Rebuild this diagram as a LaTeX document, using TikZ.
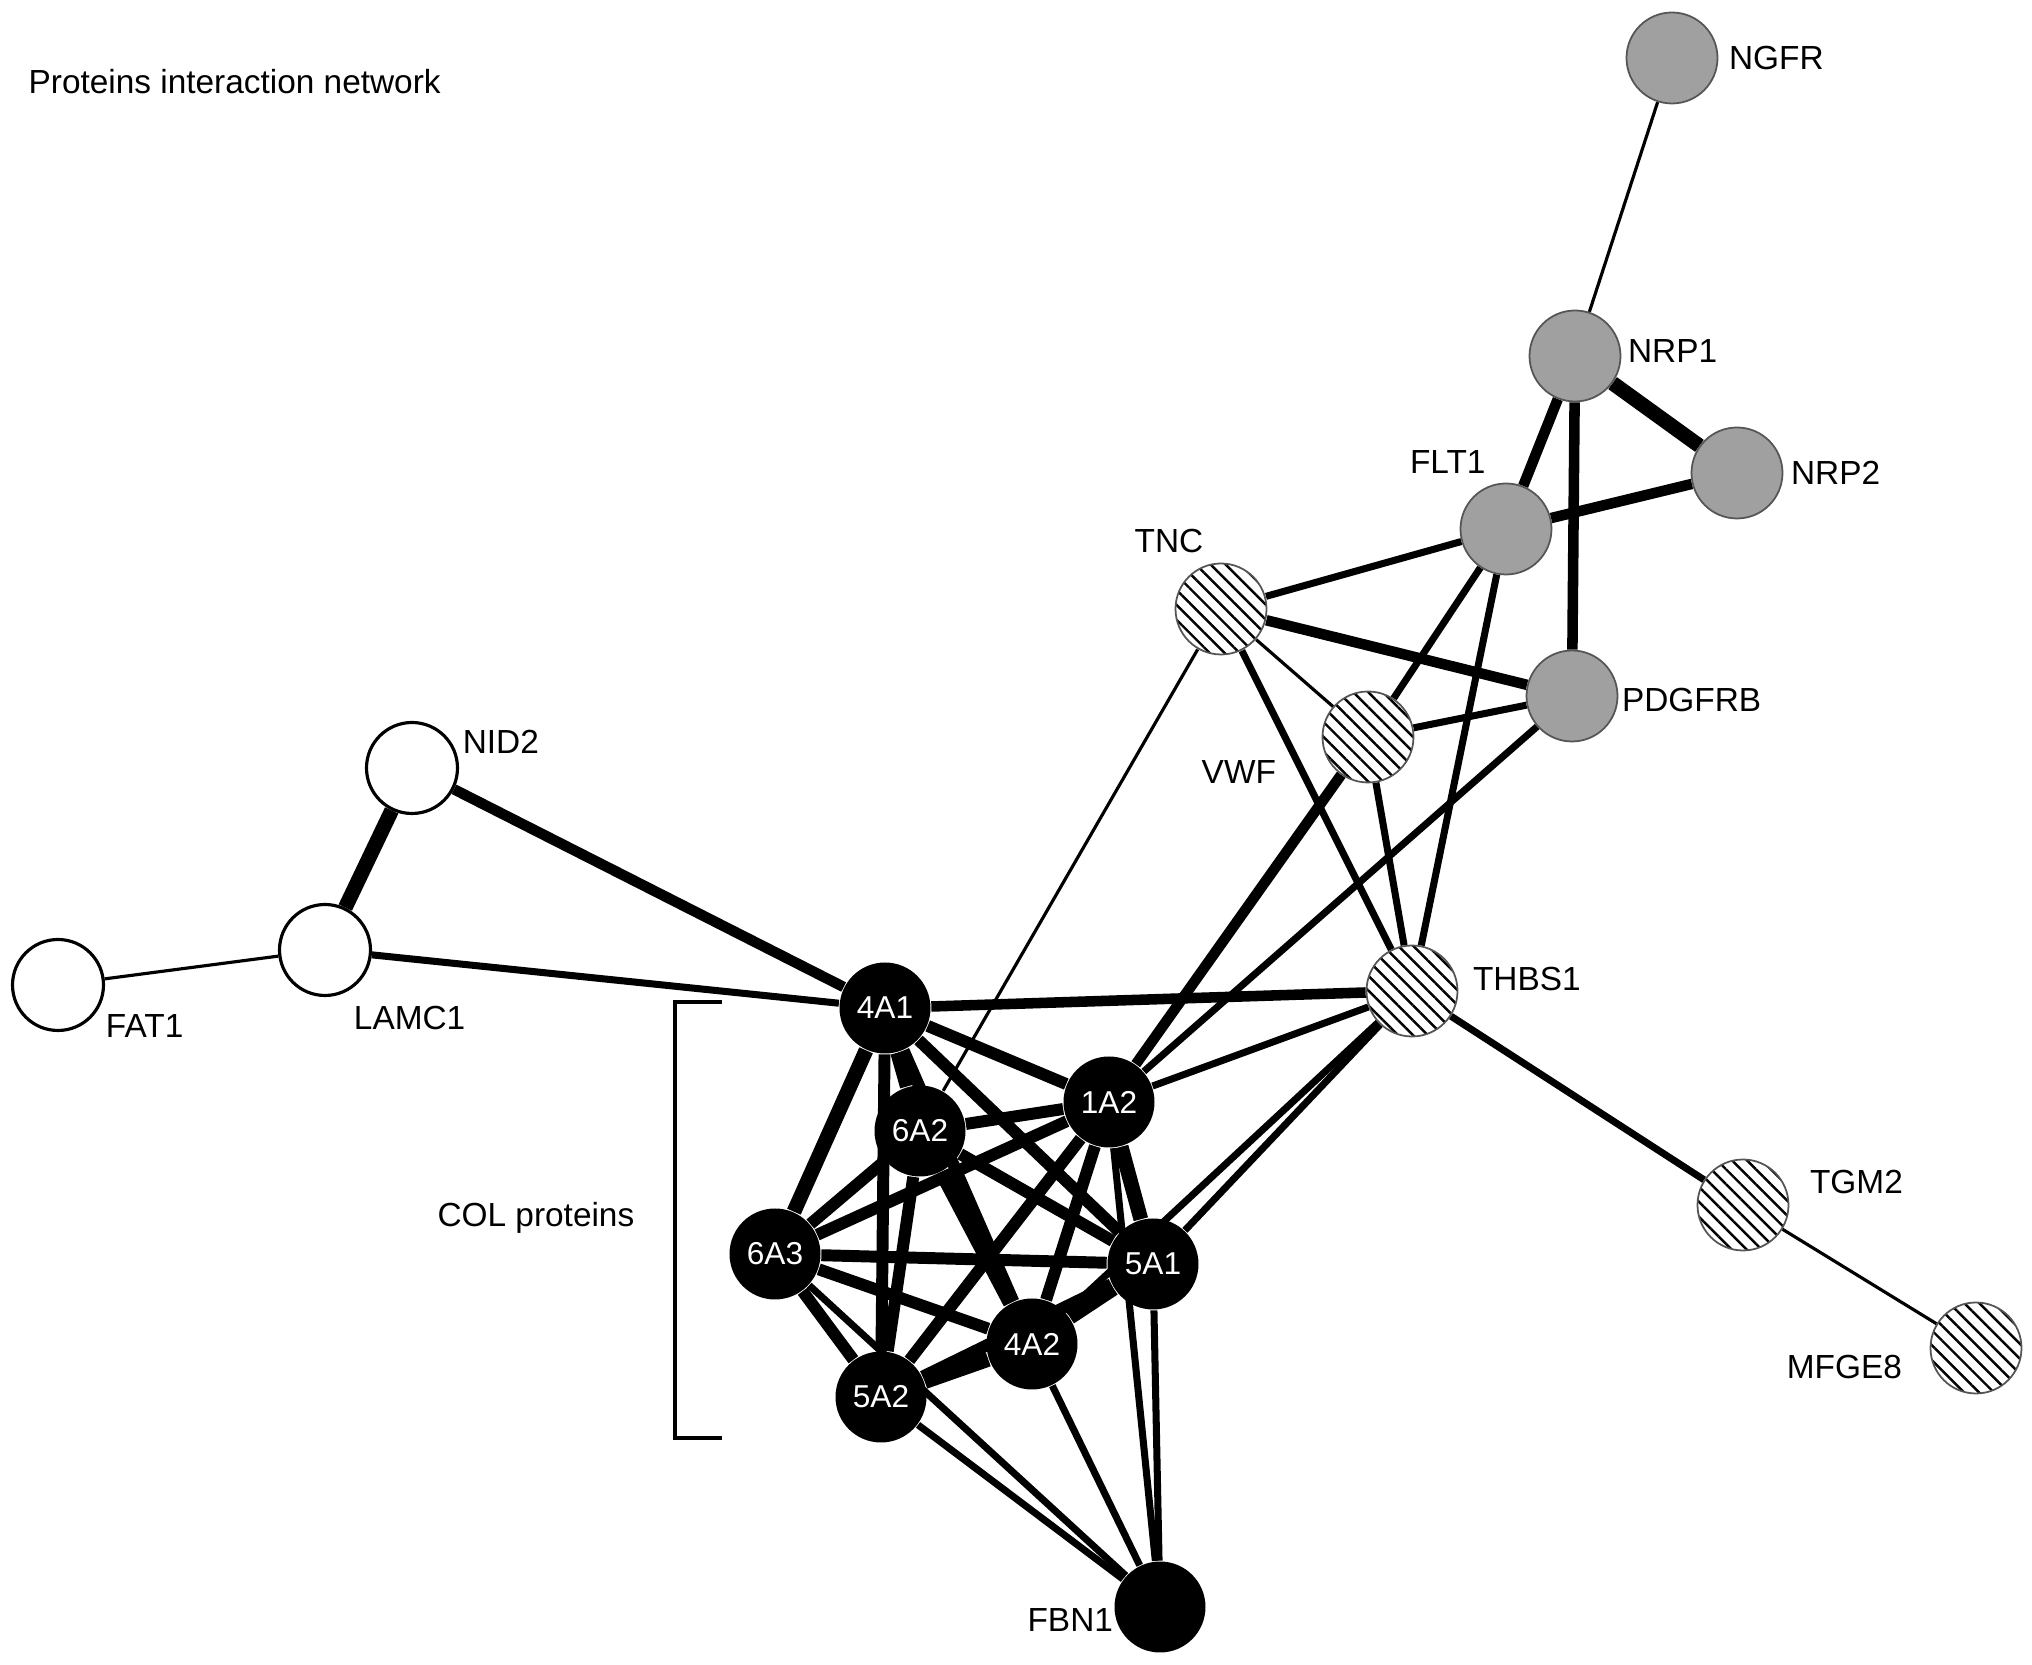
\documentclass[tikz,border=0pt]{standalone}
\usepackage{fontspec}
\setmainfont{Liberation Sans}
\usetikzlibrary{positioning,patterns.meta,backgrounds}
\definecolor{protgray}{HTML}{A0A0A0}
\definecolor{rimgray}{HTML}{555555}

\begin{document}
\begin{tikzpicture}[x=0.1mm,y=-0.1mm,
  prot/.style={circle,inner sep=0pt,minimum size=9.1mm,line width=0.5pt,
               font=\fontsize{9}{10}\selectfont},
  greyprot/.style={prot,draw=rimgray,fill=protgray},
  openprot/.style={prot,draw=black,line width=0.9pt,fill=white},
  hatchprot/.style={prot,draw=rimgray,preaction={fill=white},
               pattern={Lines[angle=-45,distance=3pt,line width=0.7pt]}},
  colprot/.style={prot,fill=black,text=white},
  lbl/.style={font=\fontsize{9.5}{11}\selectfont,inner sep=0pt},
  link/.style={line width=2pt},
  weaklink/.style={line width=0.9pt},
  stronglink/.style={line width=3pt},
  collink/.style={line width=3.4pt},
  toplink/.style={line width=4.2pt}
]
\useasboundingbox (0,0) rectangle (2032,1665);

\node[lbl,anchor=west] (title) at (28,82) {Proteins interaction network};

% proteins
\node[greyprot] (ngfr)   at (1672,58)   {};
\node[greyprot] (nrp1)   at (1575,356)  {};
\node[greyprot] (nrp2)   at (1737,473)  {};
\node[greyprot] (flt1)   at (1506,529)  {};
\node[greyprot] (pdgfrb) at (1572,696)  {};
\node[hatchprot] (tnc)   at (1221,609)  {};
\node[hatchprot] (vwf)   at (1368,737)  {};
\node[hatchprot] (thbs1) at (1412,991)  {};
\node[hatchprot] (tgm2)  at (1743,1205) {};
\node[hatchprot] (mfge8) at (1976,1348) {};
\node[openprot] (nid2)   at (412,768)   {};
\node[openprot] (lamc1)  at (325,950)   {};
\node[openprot] (fat1)   at (58,985)    {};
\node[colprot] (c4a1)    at (885,1008)  {4A1};
\node[colprot] (c1a2)    at (1109,1102) {1A2};
\node[colprot] (c6a2)    at (920,1131)  {6A2};
\node[colprot] (c6a3)    at (775,1254)  {6A3};
\node[colprot] (c5a1)    at (1153,1264) {5A1};
\node[colprot] (c4a2)    at (1032,1344) {4A2};
\node[colprot] (c5a2)    at (881,1397)  {5A2};
\node[colprot] (fbn1)    at (1160,1607) {};

% names
\node[lbl,right=1mm of ngfr] (ngfrL) {NGFR};
\node[lbl,right=0.6mm of nrp1,yshift=0.5mm] (nrp1L) {NRP1};
\node[lbl,right=0.7mm of nrp2] (nrp2L) {NRP2};
\node[lbl,above left=2.2mm and -1.3mm of flt1] (flt1L) {FLT1};
\node[lbl,above left=2.2mm and -1.6mm of tnc] (tncL) {TNC};
\node[lbl,right=0.3mm of pdgfrb,yshift=-0.4mm] (pdgfrbL) {PDGFRB};
\node[lbl,left=4.5mm of vwf,yshift=-3.5mm] (vwfL) {VWF};
\node[lbl,right=0.3mm of nid2,yshift=2.6mm] (nid2L) {NID2};
\node[lbl,below right=2.2mm and -0.5mm of lamc1] (lamc1L) {LAMC1};
\node[lbl,below right=-0.4mm and 1.4mm of fat1] (fat1L) {FAT1};
\node[lbl,right=1.4mm of thbs1,yshift=1.2mm] (thbs1L) {THBS1};
\node[lbl,right=2mm of tgm2,yshift=2.3mm] (tgm2L) {TGM2};
\node[lbl,left=2.7mm of mfge8,yshift=-1.9mm] (mfge8L) {MFGE8};
\node[lbl,left=0mm of fbn1,yshift=-1.3mm] (fbn1L) {FBN1};

% bracket round the collagens
\coordinate (brtop) at (722,1002);
\coordinate (brbot) at (722,1438);
\coordinate (brmid) at (675,1218);
\draw[line width=0.9pt] (brtop) -- ++(-47,0) |- (brbot);
\node[lbl,left=4mm of brmid] (colL) {COL proteins};

\begin{scope}[on background layer]
\draw[weaklink] (ngfr) -- (nrp1);
\draw[toplink] (nrp1) -- (nrp2);
\draw[stronglink] (nrp1) -- (flt1);
\draw[stronglink] (nrp1) -- (pdgfrb);
\draw[stronglink] (nrp2) -- (flt1);
\draw[link] (flt1) -- (tnc);
\draw[link] (flt1) -- (vwf);
\draw[link] (flt1) -- (thbs1);
\draw[stronglink] (tnc) -- (pdgfrb);
\draw[weaklink] (tnc) -- (vwf);
\draw[link] (tnc) -- (thbs1);
\draw[weaklink] (tnc) -- (c6a2);
\draw[link] (vwf) -- (pdgfrb);
\draw[link] (vwf) -- (thbs1);
\draw[stronglink] (vwf) -- (c1a2);
\draw[link] (pdgfrb) -- (c1a2);
\draw[stronglink] (thbs1) -- (c4a1);
\draw[link] (thbs1) -- (c1a2);
\draw[link] (thbs1) -- (c5a1);
\draw[link] (thbs1) -- (c4a2);
\draw[link] (thbs1) -- (tgm2);
\draw[weaklink] (tgm2) -- (mfge8);
\draw[toplink] (nid2) -- (lamc1);
\draw[stronglink] (nid2) -- (c4a1);
\draw[link] (lamc1) -- (c4a1);
\draw[weaklink] (fat1) -- (lamc1);
% collagen cluster
\draw[collink] (c4a1) -- (c1a2);
\draw[toplink] (c4a1) -- (c6a2);
\draw[toplink] (c4a1) -- (c6a3);
\draw[collink] (c4a1) -- (c5a2);
\draw[collink] (c4a1) -- (c4a2);
\draw[collink] (c4a1) -- (c5a1);
\draw[collink] (c1a2) -- (c6a2);
\draw[collink] (c1a2) -- (c6a3);
\draw[collink] (c1a2) -- (c5a2);
\draw[collink] (c1a2) -- (c4a2);
\draw[toplink] (c1a2) -- (c5a1);
\draw[collink] (c6a2) -- (c6a3);
\draw[collink] (c6a2) -- (c5a2);
\draw[toplink] (c6a2) -- (c4a2);
\draw[collink] (c6a2) -- (c5a1);
\draw[collink] (c6a3) -- (c5a1);
\draw[collink] (c6a3) -- (c4a2);
\draw[collink] (c6a3) -- (c5a2);
\draw[collink] (c5a1) -- (c4a2);
\draw[collink] (c5a1) -- (c5a2);
\draw[toplink] (c4a2) -- (c5a2);
% fibrillin
\draw[link] (fbn1) -- (c5a2);
\draw[link] (fbn1) -- (c6a3);
\draw[link] (fbn1) -- (c4a2);
\draw[link] (fbn1) -- (c5a1);
\draw[link] (fbn1) -- (c1a2);
\end{scope}
\end{tikzpicture}
\end{document}
